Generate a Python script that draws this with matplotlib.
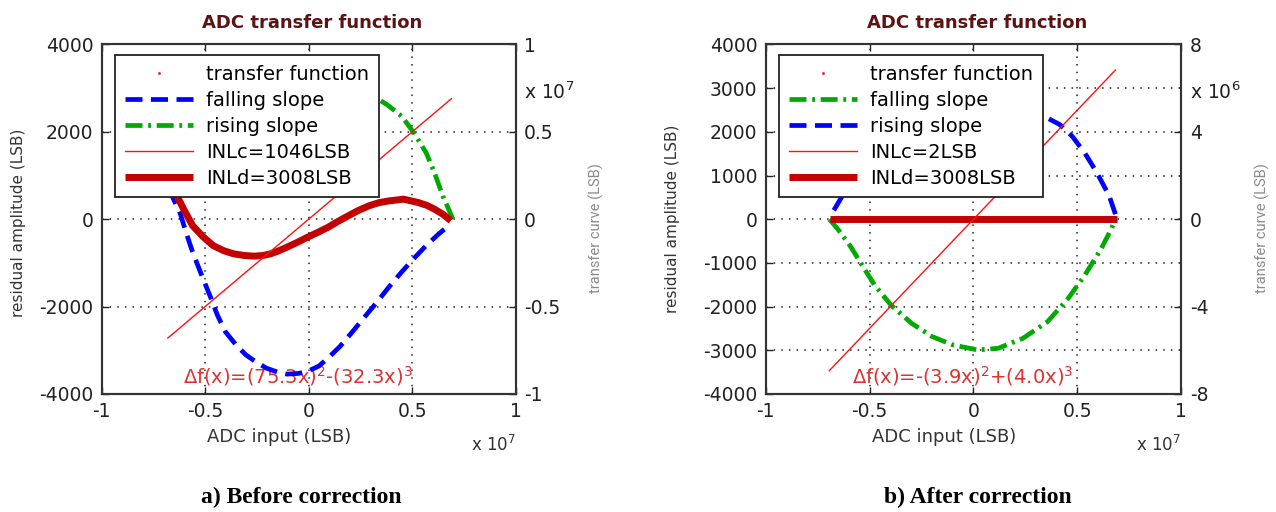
import numpy as np
import matplotlib
matplotlib.use('Agg')
from matplotlib import pyplot as plt
from matplotlib.lines import Line2D

plt.rcParams['axes.unicode_minus'] = False
plt.rcParams['font.family'] = ['DejaVu Sans']

E7 = 1e7  # x values below are in units of 1e7 LSB

# ---- a) before correction ----
tf_x_a = [-0.68, 0.69]                  # transfer curve, y = x (right axis)
blue_x_a = [-0.68, -0.66, -0.62, -0.59, -0.56, -0.515, -0.471, -0.44, -0.402, -0.35,
            -0.303, -0.25, -0.204, -0.15, -0.105, -0.05, -0.006, 0.05, 0.093, 0.15,
            0.212, 0.27, 0.331, 0.39, 0.449, 0.51, 0.568, 0.63, 0.687]
blue_y_a = [1300, 540, 130, -330, -755, -1300, -1816, -2200, -2575, -2880,
            -3105, -3280, -3408, -3500, -3545, -3530, -3484, -3360, -3181, -2920,
            -2575, -2240, -1892, -1540, -1210, -890, -603, -330, -110]
green_x_a = [0.697, 0.67, 0.648, 0.608, 0.568, 0.509, 0.45, 0.38, 0.30, 0.15, 0.0,
             -0.2, -0.4, -0.55, -0.68]
green_y_a = [0, 300, 534, 1065, 1520, 1975, 2355, 2620, 2850, 3050, 3100,
             2950, 2500, 1900, 1300]
inld_x_a = [-0.68, -0.64, -0.60, -0.56, -0.51, -0.461, -0.41, -0.362, -0.31, -0.263,
            -0.22, -0.184, -0.145, -0.105, -0.055, -0.006, 0.045, 0.093, 0.14, 0.192,
            0.24, 0.291, 0.34, 0.39, 0.459, 0.529, 0.57, 0.608, 0.65, 0.687]
inld_y_a = [1000, 572, 200, -148, -400, -603, -720, -792, -830, -845,
            -830, -792, -725, -641, -530, -413, -300, -186, -55, 80,
            200, 307, 380, 421, 459, 383, 320, 231, 110, -34]

# ---- b) after correction ----
tf_x_b = [-0.693, 0.683]
green_x_b = [-0.693, -0.653, -0.594, -0.535, -0.475, -0.396, -0.297, -0.198, -0.099,
             0.02, 0.119, 0.238, 0.356, 0.455, 0.535, 0.614, 0.663, 0.683]
green_y_b = [0, -224, -603, -1058, -1513, -1968, -2385, -2688, -2878,
             -2992, -2954, -2726, -2347, -1816, -1286, -679, -224, 0]
blue_x_b = [0.683, 0.653, 0.594, 0.535, 0.475, 0.416, 0.356, 0.25, 0.1, -0.1,
            -0.3, -0.5, -0.63, -0.683]
blue_y_b = [116, 535, 1065, 1520, 1900, 2165, 2317, 2500, 2550, 2400,
            2000, 1300, 540, 116]
inld_x_b = [-0.69, 0.69]
inld_y_b = [0, 0]

labels_a = ['transfer function', 'falling slope', 'rising slope', 'INLc=1046LSB', 'INLd=3008LSB']
labels_b = ['transfer function', 'falling slope', 'rising slope', 'INLc=2LSB', 'INLd=3008LSB']
eq_a = r'$\Delta$f(x)=(75.3x)$^2$-(32.3x)$^3$'
eq_b = r'$\Delta$f(x)=-(3.9x)$^2$+(4.0x)$^3$'

BLUE = '#0000ff'
GREEN = '#00aa00'
DRED = '#c40000'
RED = '#ff1010'
TXT = '#333333'

blue_style = dict(color=BLUE, lw=3.4, dashes=(3.6, 1.8))
green_style = dict(color=GREEN, lw=3.4, dashes=(3.6, 1.2, 0.6, 1.2))


def panel(ax, xs_tf, lower, upper, lower_style, upper_style, inld, labels,
          ylim, yticks, rlim, rscale, rexp, eq):
    ax.set_xlim(-E7, E7)
    ax.set_ylim(*ylim)
    ax.set_xticks(np.arange(-1, 1.01, 0.5) * E7)
    ax.set_xticklabels(['-1', '-0.5', '0', '0.5', '1'])
    ax.set_yticks(yticks)
    ax.set_yticklabels([str(int(v)) for v in yticks])
    ax.grid(True, color='#222222', linestyle=(0, (1, 4)), lw=1.1)
    ax.tick_params(direction='in', length=5, width=1, labelsize=13.5, pad=6,
                   top=True, colors='#222222')
    for s in ax.spines.values():
        s.set_color('#333333')
        s.set_linewidth(1.5)

    l1, = ax.plot(np.array(lower[0]) * E7, lower[1], zorder=3, **lower_style)
    l2, = ax.plot(np.array(upper[0]) * E7, upper[1], zorder=3, **upper_style)
    l4, = ax.plot(np.array(inld[0]) * E7, inld[1], color=DRED, lw=5, zorder=3,
                  solid_capstyle='butt')
    ax.text(-0.05 * E7, ylim[0] * 0.9, eq, color='#e03030', fontsize=14,
            ha='center', va='center', zorder=2)

    ax2 = ax.twinx()
    ax2.set_ylim(*rlim)
    ax2.set_yticks(np.linspace(rlim[0], rlim[1], 5))
    ax2.set_yticklabels(['%g' % (v / rscale) for v in np.linspace(rlim[0], rlim[1], 5)])
    ax2.tick_params(direction='in', length=5, width=1, labelsize=13.5, pad=6,
                    colors='#222222')
    for s in ax2.spines.values():
        s.set_color('#333333')
        s.set_linewidth(1.5)
    xt = np.array(xs_tf) * E7
    l3, = ax2.plot(xt, xt, color=RED, lw=1)

    dot = Line2D([], [], color=RED, marker='.', markersize=2, linestyle='none')
    handles = [dot, l1, l2, l3, l4]
    leg = ax2.legend(handles, labels, loc='upper left', bbox_to_anchor=(0.032, 0.97),
                     borderaxespad=0, fontsize=14, handlelength=3.5,
                     handletextpad=0.7, borderpad=0.5, labelspacing=0.36,
                     fancybox=False, framealpha=1)
    leg.get_frame().set_edgecolor('#222222')
    leg.get_frame().set_linewidth(1.3)

    ax.text(0.508, 1.061, 'ADC transfer function', transform=ax.transAxes,
            ha='center', va='center', fontsize=13, fontweight='bold', color='#5a1414')
    ax.text(0.43, -0.123, 'ADC input (LSB)', transform=ax.transAxes,
            ha='center', va='center', fontsize=13, color=TXT)
    ax.text(1.0, -0.146, r'x 10$^7$', transform=ax.transAxes,
            ha='right', va='center', fontsize=12, color=TXT)
    ax.text(1.02, 0.863, r'x 10$^{%d}$' % rexp, transform=ax.transAxes,
            ha='left', va='center', fontsize=13.5, color='#222222')
    ax.text(1.195, 0.476, 'transfer curve (LSB)', transform=ax.transAxes,
            ha='center', va='center', rotation=90, color='#8a8a8a',
            family='Roboto', fontsize=10.5)
    return ax


fig = plt.figure(figsize=(12.76, 5.12), dpi=100)
axa = fig.add_axes([0.0796, 0.2305, 0.3245, 0.6826])
axb = fig.add_axes([0.6000, 0.2305, 0.3258, 0.6826])

panel(axa, tf_x_a, (blue_x_a, blue_y_a), (green_x_a, green_y_a), blue_style, green_style,
      (inld_x_a, inld_y_a), labels_a, (-4000, 4000), np.arange(-4000, 4001, 2000),
      (-E7, E7), 1e7, 7, eq_a)
panel(axb, tf_x_b, (green_x_b, green_y_b), (blue_x_b, blue_y_b), green_style, blue_style,
      (inld_x_b, inld_y_b), labels_b, (-4000, 4000), np.arange(-4000, 4001, 1000),
      (-8e6, 8e6), 1e6, 6, eq_b)

axa.text(-0.20, 0.49, 'residual amplitude (LSB)', transform=axa.transAxes, rotation=90,
         ha='center', va='center', fontsize=11, color=TXT)
axb.text(-0.225, 0.50, 'residual amplitude (LSB)', transform=axb.transAxes, rotation=90,
         ha='center', va='center', fontsize=11, color=TXT)

fig.text(0.236, 0.029, 'a) Before correction', ha='center', va='center',
         family='Liberation Serif', fontweight='bold', fontsize=17)
fig.text(0.766, 0.029, 'b) After correction', ha='center', va='center',
         family='Liberation Serif', fontweight='bold', fontsize=17)

fig.savefig('out.png', dpi=100)
